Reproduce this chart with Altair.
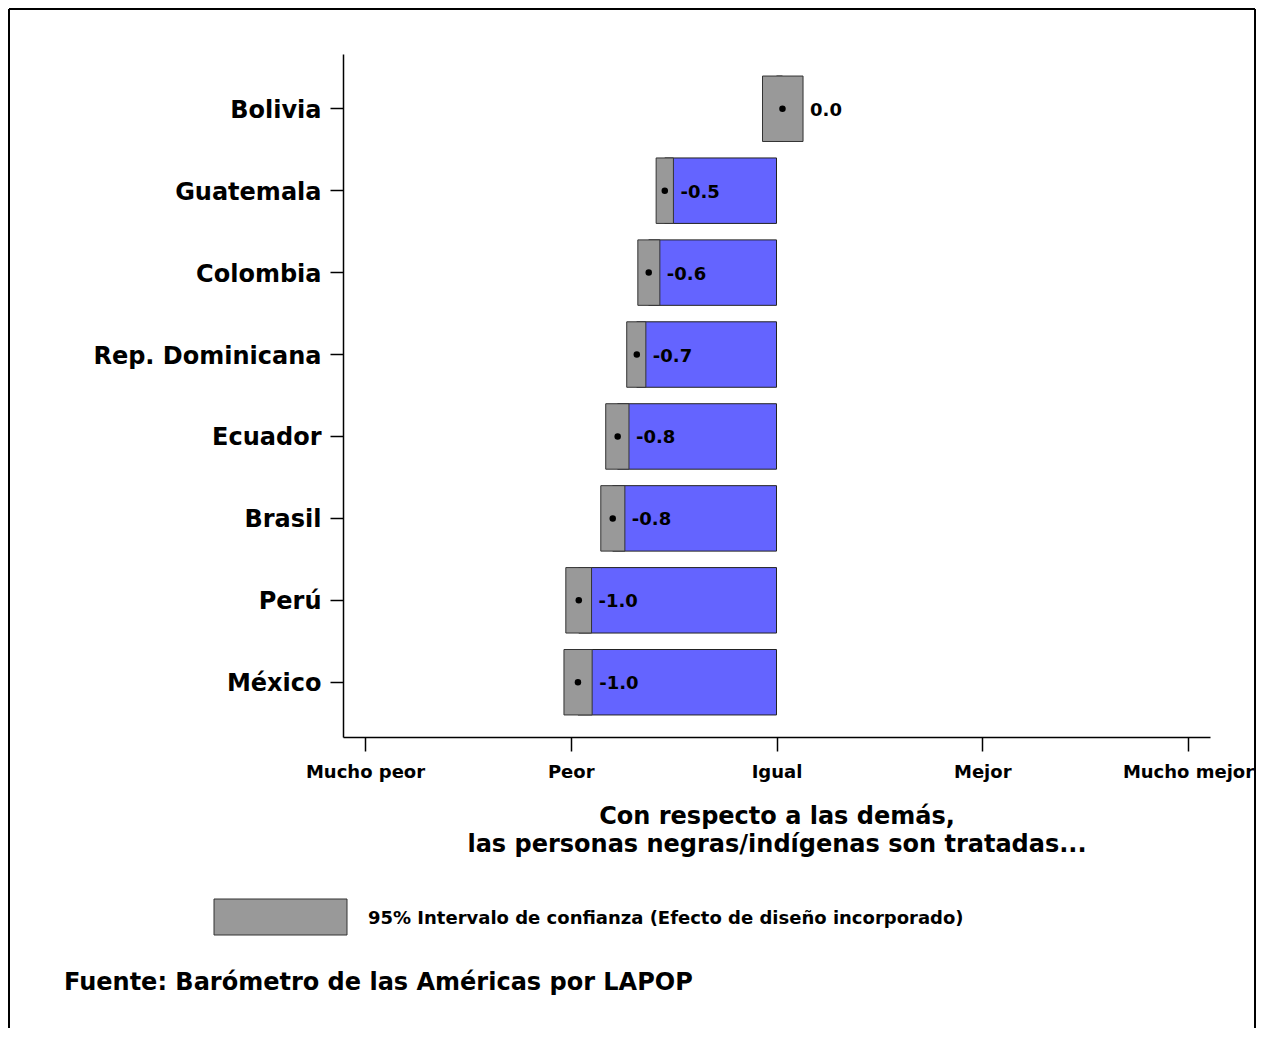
import json
import altair as alt
import pandas as pd

countries = ["Bolivia", "Guatemala", "Colombia", "Rep. Dominicana", "Ecuador", "Brasil", "Perú", "México"]
means = [0.029, -0.543, -0.621, -0.679, -0.772, -0.796, -0.961, -0.965]
ci_low = [-0.068, -0.585, -0.674, -0.728, -0.830, -0.854, -1.024, -1.033]
ci_high = [0.129, -0.501, -0.567, -0.635, -0.717, -0.737, -0.899, -0.896]

tick_values = [-2, -1, 0, 1, 2]
tick_labels = ["Mucho peor", "Peor", "Igual", "Mejor", "Mucho mejor"]

x_title = ["Con respecto a las demás,", "las personas negras/indígenas son tratadas..."]
legend_text = "95% Intervalo de confianza (Efecto de diseño incorporado)"
source_text = "Fuente: Barómetro de las Américas por LAPOP"

FONT = "DejaVu Sans"
BLUE = "#6464ff"
GRAY = "#999999"

df = pd.DataFrame({
    "country": countries,
    "mean": means,
    "lo": ci_low,
    "hi": ci_high,
    "zero": [0.0] * len(countries),
})

W, H = 867, 683

xscale = alt.Scale(domain=[-2.107, 2.107], nice=False, zero=False)
yscale = alt.Scale(paddingInner=0.201, paddingOuter=0.269)

label_expr = json.dumps(tick_labels) + "[round(datum.value) + 2]"

x_axis = alt.Axis(
    values=tick_values,
    labelExpr=label_expr,
    labelFont=FONT, labelFontWeight="bold", labelFontSize=18, labelColor="black",
    labelPadding=12, tickSize=14, tickColor="black", tickWidth=1.5,
    domainColor="black", domainWidth=1.5, grid=False, labelFlush=False,
    title=x_title, titleFont=FONT, titleFontWeight="bold", titleFontSize=24,
    titleColor="black", titlePadding=23, titleLineHeight=28,
)
y_axis = alt.Axis(
    labelFont=FONT, labelFontWeight="bold", labelFontSize=24, labelColor="black",
    labelPadding=9, labelLimit=0, labelOffset=2, tickSize=13, tickColor="black", tickWidth=1.5,
    domainColor="black", domainWidth=1.5, grid=False, title=None,
)

base = alt.Chart(df)

blue = base.mark_bar(color=BLUE, stroke="#222222", strokeWidth=1).encode(
    x=alt.X("mean:Q", scale=xscale, axis=x_axis),
    x2="zero:Q",
    y=alt.Y("country:N", sort=countries, scale=yscale, axis=y_axis),
)

ci = base.mark_bar(color=GRAY, stroke="#333333", strokeWidth=1).encode(
    x=alt.X("lo:Q", scale=xscale),
    x2="hi:Q",
    y=alt.Y("country:N", sort=countries),
)

dots = base.mark_circle(color="black", opacity=1, size=42).encode(
    x=alt.X("mean:Q", scale=xscale),
    y=alt.Y("country:N", sort=countries),
)

labels = base.transform_calculate(
    lbl="replace(format(datum.mean, '.1f'), '\u2212', '-')"
).mark_text(
    align="left", baseline="middle", dx=7, dy=2, font=FONT, fontWeight="bold", fontSize=18, color="black"
).encode(
    x=alt.X("hi:Q", scale=xscale),
    y=alt.Y("country:N", sort=countries),
    text=alt.Text("lbl:N"),
)

one = alt.Chart(pd.DataFrame({"k": [0]}))

frame_left = one.mark_rule(color="black", strokeWidth=2).encode(
    x=alt.value(-334), y=alt.value(-45), y2=alt.value(990))
frame_top = one.mark_rule(color="black", strokeWidth=2).encode(
    x=alt.value(-334), x2=alt.value(912), y=alt.value(-45))
frame_right = one.mark_rule(color="black", strokeWidth=2).encode(
    x=alt.value(912), y=alt.value(-45), y2=alt.value(990))

legend_box = one.mark_rect(color=GRAY, stroke="#333333", strokeWidth=1).encode(
    x=alt.value(-129), x2=alt.value(4), y=alt.value(845), y2=alt.value(881))
legend_lbl = one.mark_text(
    align="left", baseline="alphabetic", font=FONT, fontWeight="bold", fontSize=18, color="black"
).encode(x=alt.value(25), y=alt.value(870), text=alt.value(legend_text))

source = one.mark_text(
    align="left", baseline="alphabetic", font=FONT, fontWeight="bold", fontSize=24, color="black"
).encode(x=alt.value(-279), y=alt.value(936), text=alt.value(source_text))

chart = alt.layer(
    blue, ci, dots, labels,
    frame_left, frame_top, frame_right, legend_box, legend_lbl, source,
).properties(
    width=W, height=H,
    background="white",
    autosize=alt.AutoSizeParams(type="none"),
    padding={"left": 335, "top": 46, "right": 47, "bottom": 291},
).configure_view(stroke=None)

chart.save("out.html", embed_options={"renderer": "svg", "actions": False})
